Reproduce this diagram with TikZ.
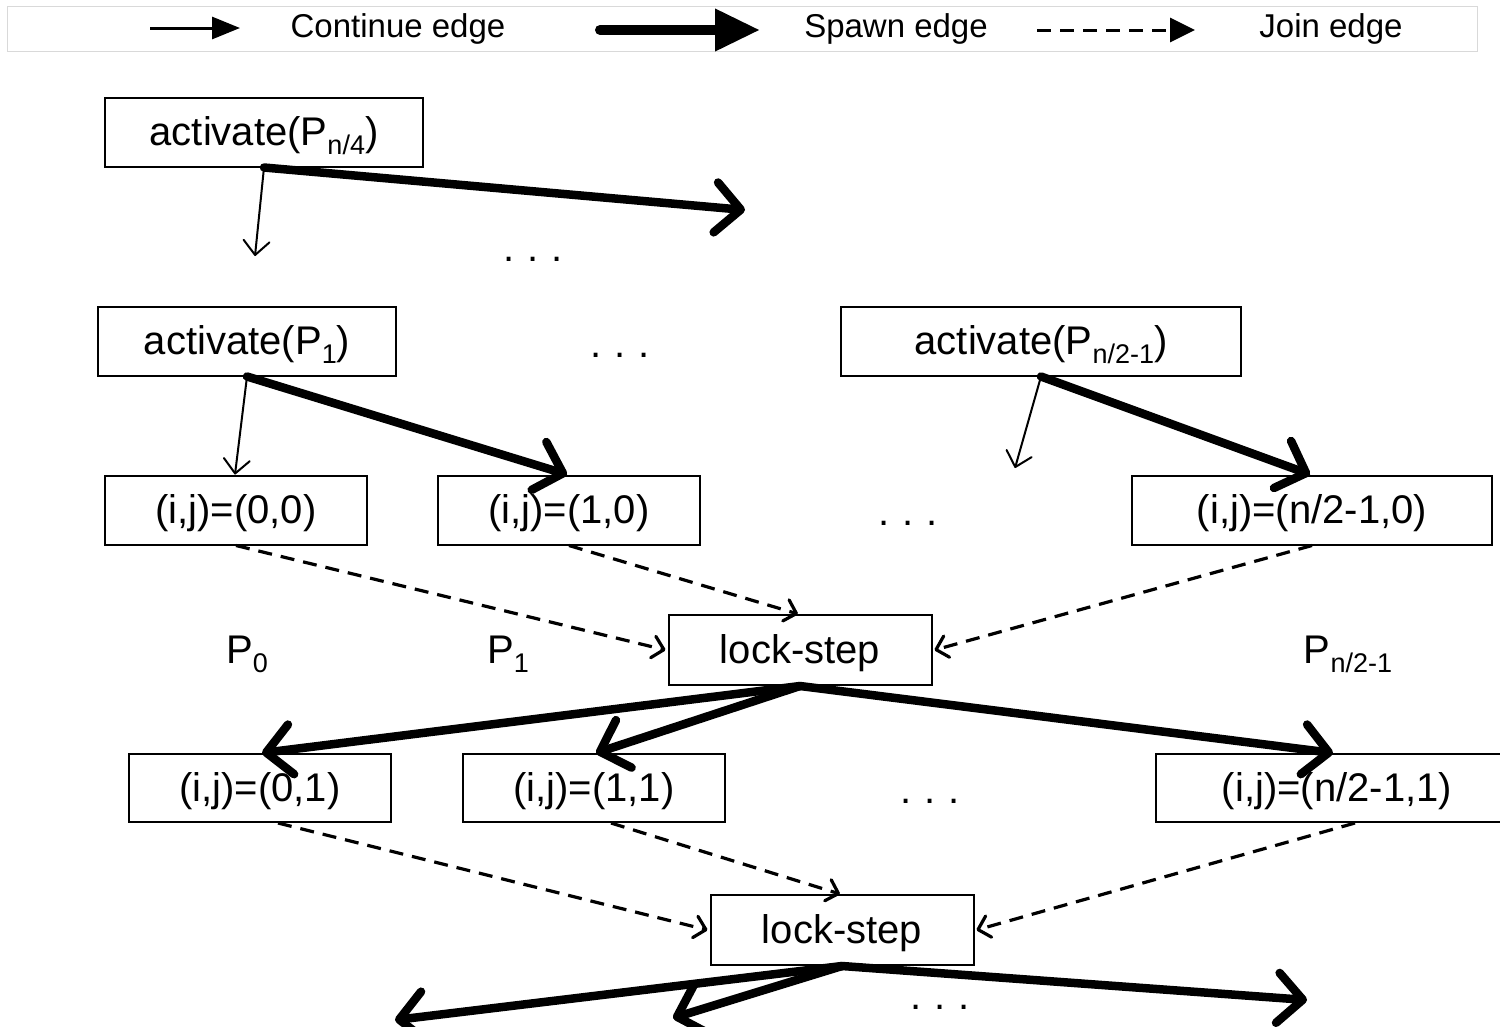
\documentclass[tikz,border=0pt]{standalone}
\usepackage{fontspec}
\setmainfont{Liberation Sans}
\usetikzlibrary{arrows.meta}
\newcommand\sbs[1]{\raisebox{-9pt}{\fontsize{27}{27}\selectfont #1}}
\tikzset{
  box/.style={draw, line width=2pt, inner sep=0pt, text height=30pt, text depth=4pt,
    font=\fontsize{40}{46}\selectfont},
  lbl/.style={inner sep=0pt, text height=30pt, text depth=4pt, font=\fontsize{40}{46}\selectfont},
  dots/.style={inner sep=0pt, font=\fontsize{40}{46}\selectfont},
  legtext/.style={inner sep=0pt, font=\fontsize{33}{39}\selectfont},
  contedge/.style={line width=2pt, -{Straight Barb[length=14pt,width=26pt,round]}},
  spawnedge/.style={line width=8.5pt, line cap=round, -{Straight Barb[length=25pt,width=50pt,round]}},
  joinedge/.style={line width=3.2pt, dash pattern=on 14pt off 9pt, -{Straight Barb[length=11pt,width=22pt,round]}},
}
\begin{document}
\begin{tikzpicture}[x=1pt, y=-1pt]
\useasboundingbox (0,0) rectangle (1500,1026);
\fill[white] (0,0) rectangle (1500,1026);

% legend
\draw[line width=1pt, black!15] (7,6) rectangle (1477,51);
\coordinate (lc1) at (150,28); \coordinate (lc2) at (240,28);
\coordinate (ls1) at (600,30); \coordinate (ls2) at (760,30);
\coordinate (lj1) at (1037,30); \coordinate (lj2) at (1195,30);
\draw[line width=3pt, -{Triangle[length=28pt,width=22pt]}] (lc1) -- (lc2);
\draw[line width=10pt, line cap=round, -{Triangle[length=45pt,width=40pt]}] (ls1) -- (ls2);
\draw[line width=3pt, dash pattern=on 14pt off 9pt, -{Triangle[length=25pt,width=24pt]}] (lj1) -- (lj2);
\node[legtext] (tc) at (398,29) {Continue edge};
\node[legtext] (ts) at (896,29) {Spawn edge};
\node[legtext] (tj) at (1331,29) {Join edge};

% activation nodes
\node[box, minimum width=318pt, minimum height=69pt] (A4) at (264,132) {activate(P\sbs{n/4})};
\node[box, minimum width=298pt, minimum height=69pt] (A1) at (247,341) {activate(P\sbs{1})};
\node[box, minimum width=400pt, minimum height=69pt] (An) at (1041,341) {activate(P\sbs{n/2-1})};

% first row of iterations
\node[box, minimum width=262pt, minimum height=69pt] (B00) at (236,510) {(i,j)=(0,0)};
\node[box, minimum width=262pt, minimum height=69pt] (B10) at (569,510) {(i,j)=(1,0)};
\node[box, minimum width=360pt, minimum height=69pt] (Bn0) at (1312,510) {(i,j)=(n/2-1,0)};

% lock-step barriers
\node[box, minimum width=263pt, minimum height=70pt] (L1) at (800,650) {lock-step};
\node[box, minimum width=263pt, minimum height=70pt] (L2) at (842,930) {lock-step};

% second row of iterations
\node[box, minimum width=262pt, minimum height=68pt] (C01) at (260,788) {(i,j)=(0,1)};
\node[box, minimum width=262pt, minimum height=68pt] (C11) at (594,788) {(i,j)=(1,1)};
\node[box, minimum width=362pt, minimum height=68pt] (Cn1) at (1337,788) {(i,j)=(n/2-1,1)};

% processor labels
\node[lbl] (P0) at (247,650) {P\sbs{0}};
\node[lbl] (P1) at (508,650) {P\sbs{1}};
\node[lbl] (Pn) at (1348,650) {P\sbs{n/2-1}};

% ellipses
\node[dots, anchor=base] (d1) at (533,261) {.\,\,.\,\,.};
\node[dots, anchor=base] (d2) at (620,357) {.\,\,.\,\,.};
\node[dots, anchor=base] (d3) at (908,525) {.\,\,.\,\,.};
\node[dots, anchor=base] (d4) at (930,803) {.\,\,.\,\,.};
\node[dots, anchor=base] (d5) at (940,1009) {.\,\,.\,\,.};

% free ends
\coordinate (e4c) at (255,256);
\coordinate (e4s) at (745,210);
\coordinate (enc) at (1015,468);
\coordinate (f1) at (395,1020);
\coordinate (f2) at (673,1018);
\coordinate (f3) at (1307,1000);

% continue edges
\draw[contedge] (A4.south) -- (e4c);
\draw[contedge] (A1.south) -- ([xshift=-1pt]B00.north);
\draw[contedge] (An.south) -- (enc);

% spawn edges
\draw[spawnedge] (A4.south) -- (e4s);
\draw[spawnedge] (A1.south) -- ([xshift=-2pt]B10.north);
\draw[spawnedge] (An.south) -- ([xshift=-2pt]Bn0.north);
\draw[spawnedge] (L1.south) -- ([xshift=2pt]C01.north);
\draw[spawnedge] (L1.south) -- ([xshift=2pt]C11.north);
\draw[spawnedge] (L1.south) -- ([xshift=-4pt]Cn1.north);
\draw[spawnedge] (L2.south) -- (f1);
\draw[spawnedge] (L2.south) -- (f2);
\draw[spawnedge] (L2.south) -- (f3);

% join edges
\draw[joinedge] (B00.south) -- ([xshift=-2pt]L1.west);
\draw[joinedge] (B10.south) -- ([xshift=-2pt]L1.north);
\draw[joinedge] (Bn0.south) -- ([xshift=2pt]L1.east);
\draw[joinedge] ([xshift=18pt]C01.south) -- ([xshift=-2pt]L2.west);
\draw[joinedge] ([xshift=17pt]C11.south) -- ([xshift=-2pt]L2.north);
\draw[joinedge] ([xshift=18pt]Cn1.south) -- ([xshift=2pt]L2.east);
\end{tikzpicture}
\end{document}
